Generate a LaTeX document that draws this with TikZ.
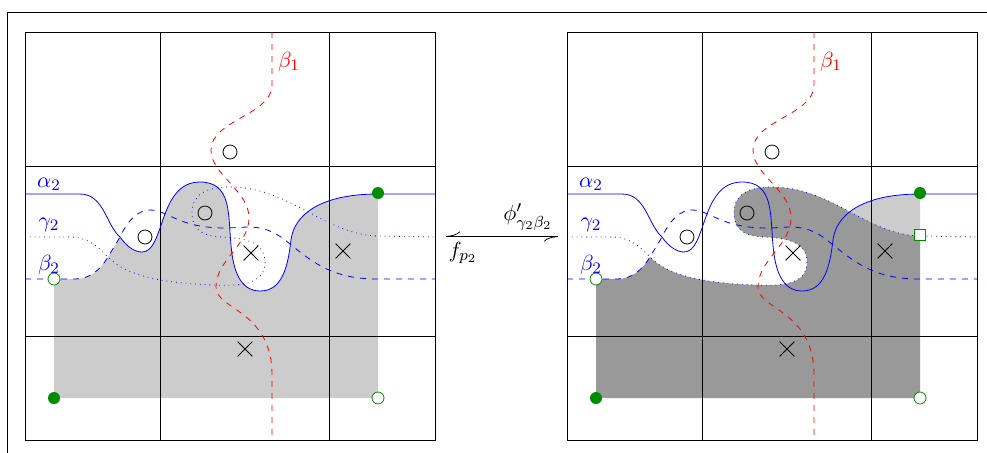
\documentclass[tikz,border=0pt]{standalone}
\usepackage{xcolor}
\usepackage{amsmath}
\usetikzlibrary{arrows.meta, shapes.misc}
\definecolor{mygreen}{RGB}{0,140,0}
\definecolor{shadelight}{gray}{0.8}
\definecolor{shadedark}{gray}{0.6}
\tikzset{
  hole/.style={circle, draw=black, fill=none, minimum size=7pt, inner sep=0pt},
  puncture/.style={cross out, draw=black, minimum size=7pt, inner sep=0pt},
  fulldot/.style={circle, fill=mygreen, minimum size=6pt, inner sep=0pt},
  opendot/.style={circle, draw=mygreen, fill=white, minimum size=6pt, inner sep=0pt},
  opensquare/.style={rectangle, draw=mygreen, fill=white, minimum size=5.5pt, inner sep=0pt},
  alphacurve/.style={color=blue},
  betacurve/.style={color=blue, dashed},
  gammacurve/.style={color=blue, dotted},
  redcurve/.style={color=red, dashed},
  curvelabel/.style={color=blue, inner sep=0pt, font=\fontsize{10.95}{13}\selectfont},
  maplabel/.style={inner sep=0pt, font=\fontsize{10.95}{13}\selectfont},
  maparrow/.style={{Computer Modern Rightarrow[harpoon,swap,length=7pt,width=5pt]}-{Computer Modern Rightarrow[harpoon,swap,length=7pt,width=5pt]}}
}
% Curve pieces, shared by the curves and the shaded regions
\newcommand{\betafoot}{.. controls (90,279) and (100,270) .. (108,257)}
\newcommand{\betarise}{.. controls (112,250) and (116,244) .. (120,237)}
\newcommand{\betatail}{.. controls (128,220) and (138,210) .. (150,210) .. controls (168,210) and (178,228) .. (225,228) .. controls (245,228) and (262,222) .. (285,240) .. controls (310,260) and (330,279) .. (377,279)}
\newcommand{\alphafoot}{.. controls (104,194) and (106,225) .. (120,237)}
\newcommand{\alphatail}{.. controls (127,247) and (135,252) .. (142,252) .. controls (165,252) and (158,182) .. (200,182) .. controls (232,182) and (228,215) .. (231,245) .. controls (233,270) and (240,291) .. (260,291) .. controls (283,291) and (288,265) .. (291,240)}
\newcommand{\alphaend}{.. controls (294,215) and (320,194) .. (378,194)}
\newcommand{\gammafoot}{.. controls (88,237) and (98,247) .. (108,257)}
\newcommand{\gammatail}{.. controls (125,275) and (160,283) .. (213,285) .. controls (240,286) and (265,285) .. (265,262) .. controls (265,240) and (240,238) .. (222,237) .. controls (200,236) and (192,228) .. (192,213) .. controls (192,195) and (205,187) .. (230,187) .. controls (290,187) and (325,235) .. (378,236)}
% One panel: grid, curves, marks and labels
\newcommand{\panel}{
  \draw (25,32) rectangle (435,440);
  \draw (160,32) -- (160,440);
  \draw (329,32) -- (329,440);
  \draw (25,166) -- (435,166);
  \draw (25,336) -- (435,336);
  \draw[gammacurve] (25,237) -- (70,237) \gammafoot \gammatail -- (435,237);
  \draw[betacurve] (25,279) -- (75,279) \betafoot \betarise \betatail -- (435,279);
  \draw[alphacurve] (25,194) -- (80,194) \alphafoot \alphatail \alphaend -- (435,194);
  \draw[redcurve] (272,32) -- (272,85) .. controls (272,115) and (211,120) .. (211,150) .. controls (211,175) and (249,190) .. (249,218) .. controls (249,245) and (216,260) .. (216,287) .. controls (216,310) and (272,310) .. (272,375) -- (272,440);
  \node[hole] at (145,237) {};
  \node[hole] at (205,213) {};
  \node[hole] at (230,152) {};
  \node[puncture] at (251,253) {};
  \node[puncture] at (343,251) {};
  \node[puncture] at (245,349) {};
  \node[curvelabel] at (49,184) {$\alpha_2$};
  \node[curvelabel] at (49,225) {$\gamma_2$};
  \node[curvelabel] at (49,265) {$\beta_2$};
  \node[curvelabel, color=red] at (289,62) {$\beta_1$};
  \node[fulldot] at (378,193) {};
  \node[fulldot] at (54,398) {};
  \node[opendot] at (54,279) {};
  \node[opendot] at (378,398) {};
}

\begin{document}
\begin{tikzpicture}[x=0.5pt, y=-0.5pt]
  \clip (0,0) rectangle (987,452);

  % Outer frame
  \draw (7,470) -- (7,12) -- (1000,12);

  % Left panel
  \fill[shadelight] (54,279) -- (75,279) \betafoot \betarise \alphatail \alphaend -- (378,398) -- (54,398) -- cycle;
  \panel

  % Right panel
  \begin{scope}[xshift=271pt]
    \fill[shadelight] (291,240) \alphaend -- (378,240) -- cycle;
    \fill[shadedark] (54,279) -- (75,279) \betafoot \gammatail -- (378,398) -- (54,398) -- cycle;
    \panel
    \node[opensquare] at (378,235) {};
  \end{scope}

  % Maps between the panels
  \coordinate (fpoint) at (446,236.5);
  \coordinate (phipoint) at (558,236.5);
  \draw[maparrow] (fpoint) -- (phipoint);
  \node[maplabel] (philabel) at (528,217) {$\phi'_{\gamma_2\beta_2}$};
  \node[maplabel] (flabel) at (463,253) {$f_{p_2}$};
\end{tikzpicture}
\end{document}
